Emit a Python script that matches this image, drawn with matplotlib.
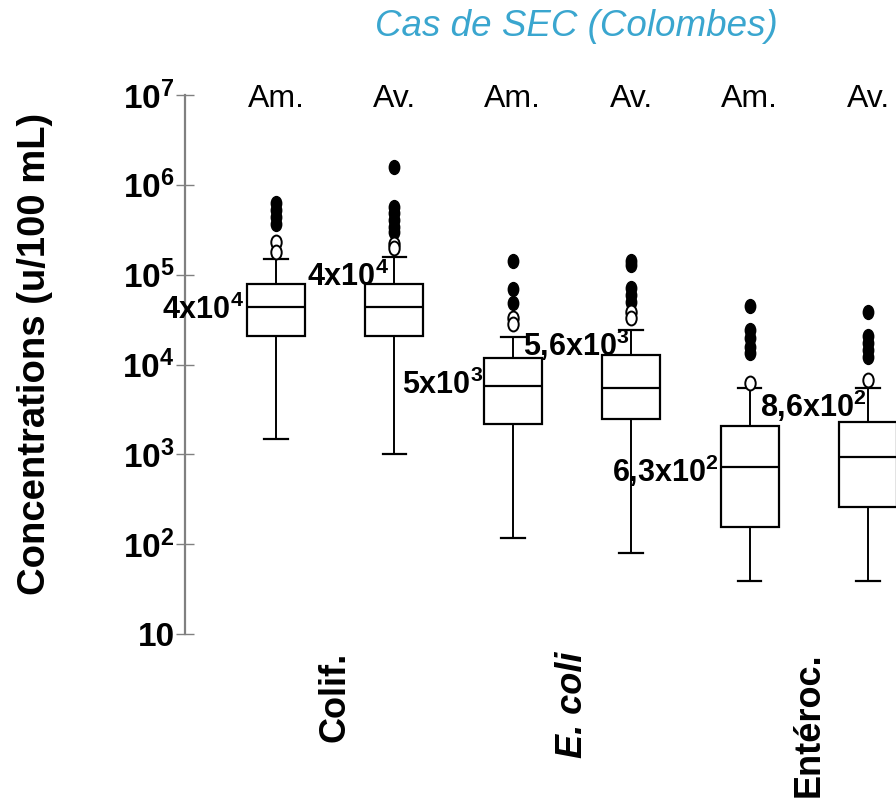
import math

import matplotlib

matplotlib.use("Agg")
import matplotlib.pyplot as plt
from matplotlib.markers import MarkerStyle
from matplotlib.ticker import FixedLocator, FuncFormatter, NullLocator
from matplotlib.transforms import Affine2D


# data (u/100 mL)
sites = ["Am.", "Av.", "Am.", "Av.", "Am.", "Av."]
groups = ["Colif.", "E. coli", "Entéroc."]
q1 = [2.1e4, 2.1e4, 2.2e3, 2.5e3, 155, 260]
median = [4.4e4, 4.4e4, 5.8e3, 5.5e3, 7.2e2, 9.3e2]
q3 = [7.9e4, 7.9e4, 1.18e4, 1.28e4, 2.07e3, 2.3e3]
whisk_lo = [1.48e3, 1.0e3, 117, 80, 39, 39]
whisk_hi = [1.49e5, 1.57e5, 2.0e4, 2.4e4, 5.5e3, 5.5e3]
far_out = [
    [6.3e5, 5.2e5, 4.4e5, 3.7e5],
    [1.58e6, 5.7e5, 4.9e5, 4.1e5, 3.4e5, 3.0e5],
    [1.42e5, 6.9e4, 4.8e4],
    [1.42e5, 1.28e5, 7.1e4, 6.0e4, 4.9e4],
    [4.5e4, 2.4e4, 1.97e4, 1.57e4, 1.34e4],
    [3.8e4, 2.1e4, 1.73e4, 1.45e4, 1.21e4],
]
near_out = [
    [2.3e5, 1.8e5],
    [2.2e5, 2.0e5],
    [3.3e4, 2.8e4],
    [3.8e4, 3.3e4],
    [6.2e3],
    [6.7e3],
]
median_text = ["4x10", "4x10", "5x10", "5,6x10", "6,3x10", "8,6x10"]
median_exp = [4, 4, 3, 3, 2, 2]

# where each median label sits (x offset from box centre, y value)
label_dx = [-0.27, -0.05, -0.25, -0.01, -0.26, -0.01]
label_y = [4.0e4, 9.4e4, 5.8e3, 1.65e4, 6.5e2, 3.5e3]

plt.rcParams["font.family"] = ["Liberation Sans", "DejaVu Sans"]
plt.rcParams["mathtext.fontset"] = "custom"
plt.rcParams["mathtext.rm"] = "Liberation Sans"
plt.rcParams["mathtext.bf"] = "Liberation Sans:bold"
plt.rcParams["mathtext.it"] = "Liberation Sans:italic"

W, H = 896, 801
fig = plt.figure(figsize=(W / 100, H / 100), dpi=100)
ax = fig.add_axes([185 / W, (H - 634) / H, (W - 185) / W, (634 - 95) / H])

positions = list(range(1, len(sites) + 1))
stats = [
    dict(med=median[i], q1=q1[i], q3=q3[i], whislo=whisk_lo[i], whishi=whisk_hi[i], fliers=[])
    for i in range(len(sites))
]
ax.bxp(
    stats,
    positions=positions,
    widths=0.49,
    capwidths=0.2,
    showfliers=False,
    patch_artist=True,
    boxprops=dict(facecolor="white", edgecolor="black", linewidth=1.6),
    medianprops=dict(color="black", linewidth=1.6),
    whiskerprops=dict(color="black", linewidth=1.4),
    capprops=dict(color="black", linewidth=1.6),
)

oval = MarkerStyle("o", transform=Affine2D().scale(0.75, 1.0))
for pos, far, near in zip(positions, far_out, near_out):
    ax.plot([pos] * len(far), far, linestyle="none", marker=oval, markersize=10,
            color="black", zorder=4)
    ax.plot([pos] * len(near), near, linestyle="none", marker=oval, markersize=10,
            markerfacecolor="white", markeredgecolor="black", markeredgewidth=1.4, zorder=4)

ax.set_yscale("log")
ax.set_ylim(10, 1e7)
ax.set_xlim(0.231, 6.236)
ax.yaxis.set_major_locator(FixedLocator([10 ** k for k in range(1, 8)]))
ax.yaxis.set_minor_locator(NullLocator())


def decade_label(v, _pos):
    k = int(round(math.log10(v)))
    if k == 1:
        return "10"
    return "10$^{\\mathbf{%d}}$" % k


ax.yaxis.set_major_formatter(FuncFormatter(decade_label))
ax.tick_params(axis="y", direction="inout", length=13, width=1.0, color="#808080",
               pad=1, labelsize=24)
for lab in ax.get_yticklabels():
    lab.set_fontweight("bold")
ax.set_xticks([])
for side in ("top", "right", "bottom"):
    ax.spines[side].set_visible(False)
ax.spines["left"].set_color("#808080")
ax.spines["left"].set_linewidth(1.6)

ax.set_ylabel("Concentrations (u/100 mL)", fontsize=27.5, fontweight="bold")
ax.yaxis.set_label_coords(-0.186, 0.52)

for pos, site in zip(positions, sites):
    ax.annotate(site, xy=(pos, 1e7), xytext=(0, -3), textcoords="offset points",
                ha="center", va="center", fontsize=23, annotation_clip=False)

for pos, txt, exp, dx, y in zip(positions, median_text, median_exp, label_dx, label_y):
    ax.text(pos + dx, y, txt + "$^{\\mathbf{%d}}$" % exp, ha="right", va="center",
            fontsize=22, fontweight="bold", zorder=5)

for g, name in enumerate(groups):
    xc = (positions[2 * g] + positions[2 * g + 1]) / 2
    style = "italic" if name == "E. coli" else "normal"
    ax.annotate(name, xy=(xc, 10), xycoords="data", xytext=(0, -13),
                textcoords="offset points", rotation=90, ha="center", va="top",
                fontsize=26, fontweight="bold", fontstyle=style, annotation_clip=False)

fig.text(576 / W, 1 - 26 / H, "Cas de SEC (Colombes)", ha="center", va="center",
         fontsize=26.5, fontstyle="italic", color="#3AA6CF")

fig.savefig("out.png", dpi=100)
